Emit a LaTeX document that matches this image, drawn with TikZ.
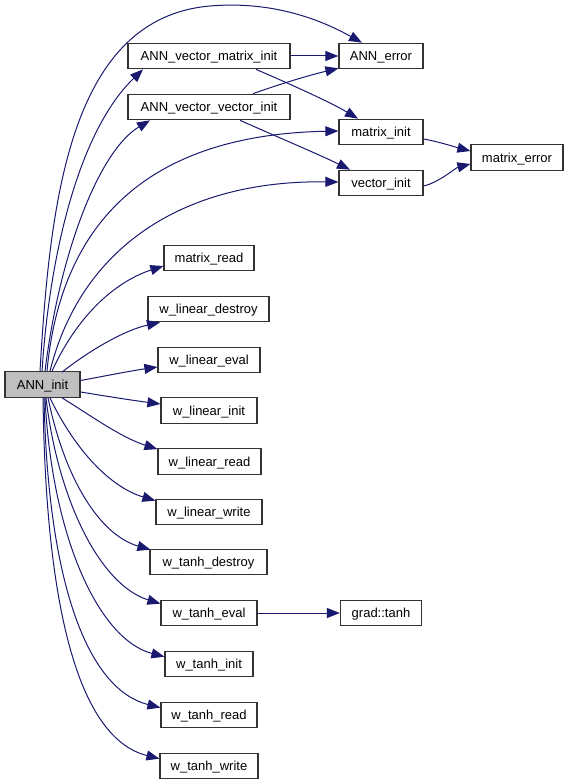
\documentclass[tikz,border=0pt]{standalone}
\usepackage{fontspec}
\setmainfont{Liberation Sans}
\usetikzlibrary{arrows.meta}
\definecolor{edgecol}{HTML}{191970}
\definecolor{boxline}{HTML}{333333}
\definecolor{rootfill}{HTML}{BFBFBF}
\tikzset{
  fn/.style={draw=boxline, line width=1.2pt, fill=white, inner sep=0pt, minimum height=25.5pt, text height=9.5pt, text depth=0.2pt, font=\fontsize{13}{15}\selectfont},
  rootfn/.style={fn, fill=rootfill},
  edge/.style={draw=edgecol, line width=1pt, -{Triangle[length=13pt,width=10pt]}, color=edgecol},
}
\begin{document}
\begin{tikzpicture}[x=1pt,y=-1pt]
\useasboundingbox (0,0) rectangle (568,784);
% nodes
\node[rootfn, minimum width=75pt] (ai) at (42.5,384.5) {ANN\_init};
\node[fn, minimum width=162pt] (avmi) at (209,56) {ANN\_vector\_matrix\_init};
\node[fn, minimum width=162pt] (avvi) at (209,107) {ANN\_vector\_vector\_init};
\node[fn, minimum width=84pt] (err) at (381,56) {ANN\_error};
\node[fn, minimum width=84pt] (mi) at (381,132) {matrix\_init};
\node[fn, minimum width=84pt] (vi) at (381,183) {vector\_init};
\node[fn, minimum width=92pt] (me) at (517,157.5) {matrix\_error};
\node[fn, minimum width=90pt] (mr) at (209,258) {matrix\_read};
\node[fn, minimum width=121pt] (wld) at (208.5,309) {w\_linear\_destroy};
\node[fn, minimum width=102pt] (wle) at (209,360) {w\_linear\_eval};
\node[fn, minimum width=96pt] (wli) at (209,410.5) {w\_linear\_init};
\node[fn, minimum width=103pt] (wlr) at (209.5,461.5) {w\_linear\_read};
\node[fn, minimum width=106pt] (wlw) at (209,512) {w\_linear\_write};
\node[fn, minimum width=117pt] (wtd) at (208.5,562) {w\_tanh\_destroy};
\node[fn, minimum width=96pt] (wte) at (209,613) {w\_tanh\_eval};
\node[fn, minimum width=81pt] (gt) at (381,613) {grad::tanh};
\node[fn, minimum width=88pt] (wti) at (209,664) {w\_tanh\_init};
\node[fn, minimum width=96pt] (wtr) at (209,715) {w\_tanh\_read};
\node[fn, minimum width=98pt] (wtw) at (209,766) {w\_tanh\_write};
% upward edges
\draw[edge] ([xshift=-2.5pt]ai.north) .. controls (50,200) and (70,18) .. (210,6) .. controls (280,0) and (330,25) .. ([xshift=-19pt]err.north);
\draw[edge] ([xshift=-0.5pt]ai.north) .. controls (50,250) and (80,130) .. ([xshift=-66pt]avmi.south);
\draw[edge] ([xshift=2.5pt]ai.north) .. controls (60,250) and (100,150) .. ([xshift=-59pt]avvi.south);
\draw[edge] ([xshift=4.5pt]ai.north) .. controls (60,230) and (140,135) .. ([yshift=1pt]mi.west);
\draw[edge] ([xshift=7.5pt]ai.north) .. controls (80,250) and (180,180) .. ([yshift=1pt]vi.west);
\draw[edge] ([xshift=9.5pt]ai.north) .. controls (80,310) and (120,280) .. ([yshift=-8pt]mr.west);
\draw[edge] ([xshift=19.5pt,yshift=-1pt]ai.north) .. controls (90,350) and (125,330) .. ([xshift=-48.5pt]wld.south);
% side edges
\draw[edge] ([yshift=4pt]ai.east) .. controls (105,376) and (130,371) .. ([yshift=-7pt]wle.west);
\draw[edge] ([yshift=-7.5pt]ai.east) .. controls (105,396) and (130,400) .. ([yshift=6.5pt]wli.west);
% downward edges
\draw[edge] ([xshift=19.5pt]ai.south) .. controls (90,415) and (120,437) .. ([yshift=-1pt]wlr.north west);
\draw[edge] ([xshift=7.5pt]ai.south) .. controls (75,450) and (110,487) .. ([yshift=-2pt]wlw.north west);
\draw[edge] ([xshift=5.5pt]ai.south) .. controls (65,480) and (100,535) .. ([xshift=1pt,yshift=-1pt]wtd.north west);
\draw[edge] ([xshift=3.5pt]ai.south) .. controls (58,500) and (100,585) .. ([yshift=-4pt]wte.north west);
\draw[edge] ([xshift=2.5pt]ai.south) .. controls (52,540) and (100,640) .. ([yshift=-6pt]wti.north west);
\draw[edge] ([xshift=1.5pt]ai.south) .. controls (48,590) and (90,690) .. ([yshift=-6pt]wtr.north west);
\draw[edge] ([xshift=0.5pt]ai.south) .. controls (46,630) and (85,740) .. ([yshift=-6pt]wtw.north west);
% right-side edges
\draw[edge] (avmi.east) -- (err.west);
\draw[edge] ([xshift=47pt]avmi.south) .. controls (290,84) and (330,102) .. ([xshift=-23pt]mi.north);
\draw[edge] ([xshift=44pt]avvi.north) .. controls (280,84) and (310,75) .. ([yshift=1pt]err.south west);
\draw[edge] ([xshift=31pt]avvi.south) .. controls (280,138) and (320,155) .. ([xshift=-31pt]vi.north);
\draw[edge] ([yshift=-7pt]mi.east) .. controls (440,142) and (455,147) .. ([yshift=6.5pt]me.west);
\draw[edge] ([yshift=-3pt]vi.east) .. controls (440,182) and (455,168) .. ([yshift=-6.5pt]me.west);
\draw[edge] (wte.east) -- (gt.west);
\end{tikzpicture}
\end{document}
